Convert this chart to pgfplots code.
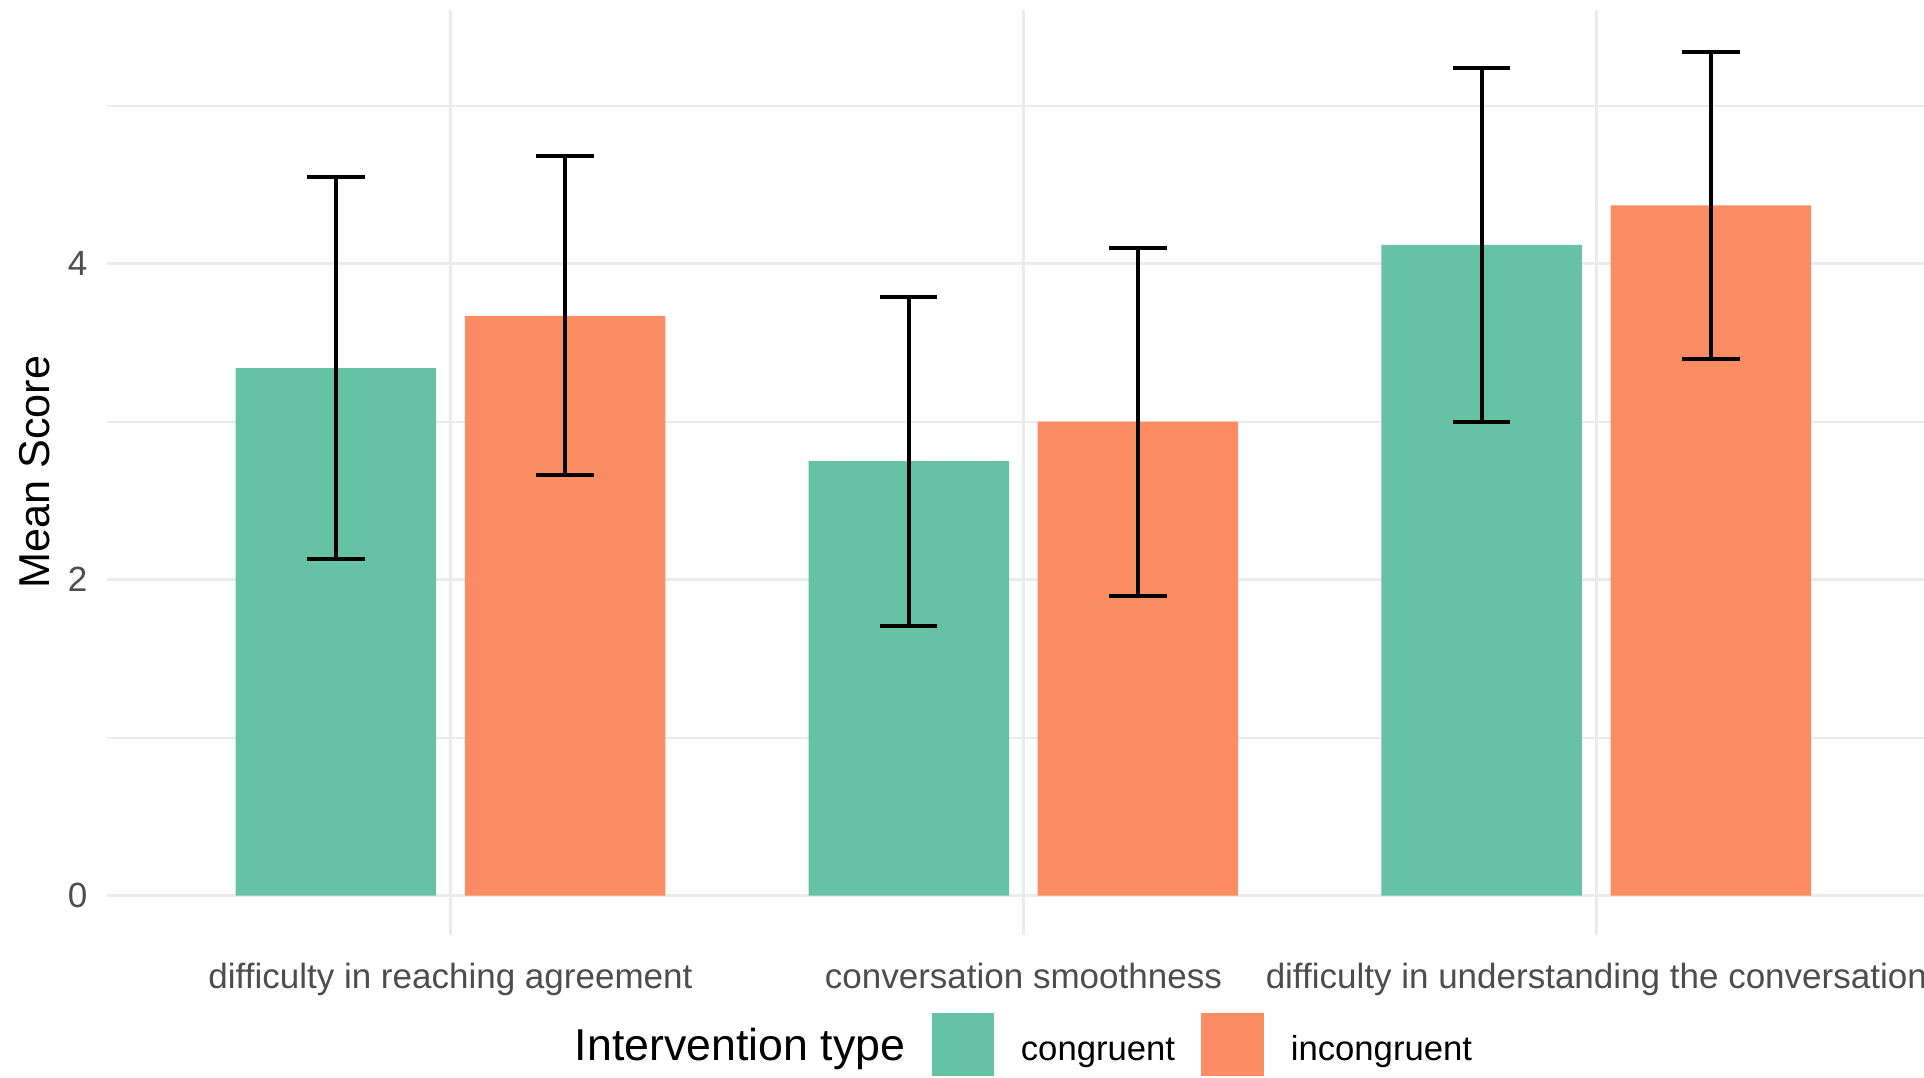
\documentclass[border=0pt]{standalone}
\usepackage{pgfplots}
\pgfplotsset{compat=1.18}
\usepackage{fontspec}
\setmainfont{Liberation Sans}
\definecolor{cong}{HTML}{66C2A5}
\definecolor{incong}{HTML}{FC8D62}
\definecolor{gridgray}{HTML}{EBEBEB}
\definecolor{ticktext}{HTML}{4D4D4D}
\begin{document}
\begin{tikzpicture}
\path[use as bounding box] (-32.0pt,-42.7pt) rectangle (545.0pt,280.4pt);
\begin{axis}[
  at={(0pt,0pt)}, anchor=south west,
  scale only axis, width=545.0pt, height=277.5pt,
  xmin=0.4, xmax=3.572, ymin=-0.2485, ymax=5.608,
  enlargelimits=false,
  ybar, bar shift=0pt, bar width=0.35,
  axis line style={draw=none},
  major tick length=0pt, minor tick length=0pt,
  /pgf/number format/assume math mode=true,
  xtick={1,2,3},
  xticklabels={difficulty in reaching agreement, conversation smoothness, difficulty in understanding the conversation},
  ytick={0,2,4}, minor ytick={1,3,5},
  xmajorgrids, ymajorgrids, yminorgrids,
  major grid style={draw=gridgray, line width=0.95pt},
  minor grid style={draw=gridgray, line width=0.55pt},
  xticklabel style={font=\fontsize{10.5}{12}\selectfont, text=ticktext, anchor=base, inner sep=0pt, yshift=-16.0pt},
  yticklabel style={font=\fontsize{10.5}{12}\selectfont, text=ticktext, anchor=east, inner sep=0pt, xshift=-5.6pt},
  ylabel={Mean Score},
  every axis y label/.style={at={(axis description cs:-0.0398,0.5)}, rotate=90, anchor=center, font=\fontsize{12.95}{15}\selectfont},
  legend columns=-1,
  legend style={draw=none, fill=none, inner sep=0pt, outer sep=0pt,
    at={(axis description cs:0.2429,-0.1180)}, anchor=west,
    cells={anchor=base west},
    nodes={inner sep=0pt},
    /tikz/every odd column/.append style={column sep=8.0pt},
    /tikz/every even column/.append style={column sep=7.9pt}},
  error bars/y dir=both, error bars/y explicit,
  error bars/error bar style={line width=1.2pt, draw=black},
  error bars/error mark options={rotate=90, mark size=8.6pt, line width=1.2pt, draw=black},
]
\addlegendimage{empty legend}
\addlegendentry{\fontsize{13.4}{15}\selectfont Intervention type}
\addplot[fill=cong, draw=none,
  legend image code/.code={\fill[cong] (0pt,-4.4pt) rectangle (18.8pt,14.4pt);}]
  coordinates {(0.8,3.34) +- (0,1.21) (1.8,2.75) +- (0,1.04) (2.8,4.12) +- (0,1.12)};
\addlegendentry{\fontsize{10.4}{12}\selectfont congruent}
\addplot[fill=incong, draw=none,
  legend image code/.code={\fill[incong] (0pt,-4.4pt) rectangle (18.8pt,14.4pt);}]
  coordinates {(1.2,3.67) +- (0,1.01) (2.2,3.00) +- (0,1.10) (3.2,4.37) +- (0,0.97)};
\addlegendentry{\fontsize{10.4}{12}\selectfont incongruent}
\end{axis}
\end{tikzpicture}
\end{document}
